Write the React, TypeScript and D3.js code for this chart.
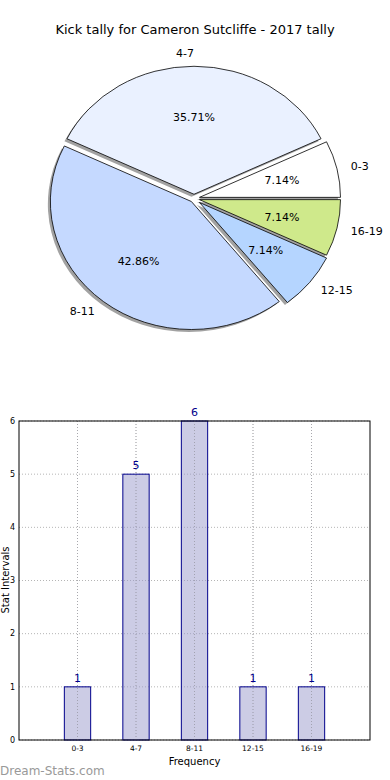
import React, { useEffect, useRef } from 'react';
import * as d3 from 'd3';

// data
const categories = ['0-3', '4-7', '8-11', '12-15', '16-19'];
const counts = [1, 5, 6, 1, 1];
const sliceColors = ['#ffffff', '#eaf1ff', '#c5d9ff', '#b5d5ff', '#cfe98b'];
const explode = [0.04, 0.033, 0.03, 0.05, 0.04];
const yTicks = [0, 1, 2, 3, 4, 5, 6];

const title = 'Kick tally for Cameron Sutcliffe - 2017 tally';
const FONT = 'DejaVu Sans, sans-serif';

const App: React.FC = () => {
  const svgRef = useRef<SVGSVGElement>(null);

  useEffect(() => {
    if (!svgRef.current) return;
    const svg = d3.select(svgRef.current);
    svg.selectAll('*').remove();

    svg.append('rect').attr('width', 390).attr('height', 780).attr('fill', '#fff');

    // title
    svg.append('text')
      .attr('x', 195).attr('y', 34)
      .attr('text-anchor', 'middle')
      .attr('font-family', FONT).attr('font-size', 13)
      .text(title);

    // ---- pie (elliptical, like matplotlib without equal aspect) ----
    const cx = 194, cy = 198.5, rx = 141, ry = 128;
    const total = d3.sum(counts);
    const pie = d3.pie<number>().sort(null).value(d => d)
      .startAngle(Math.PI / 2).endAngle(Math.PI / 2 - 2 * Math.PI);
    const arcsData = pie(counts);
    const arc = d3.arc<d3.PieArcDatum<number>>().innerRadius(0).outerRadius(rx);
    const sy = ry / rx;

    const offsetOf = (d: d3.PieArcDatum<number>, f: number) => {
      const m = (d.startAngle + d.endAngle) / 2;
      return [Math.sin(m) * rx * f, -Math.cos(m) * ry * f];
    };

    const pieG = svg.append('g');
    // shadows first
    arcsData.forEach((d, i) => {
      const [ox, oy] = offsetOf(d, explode[i]);
      pieG.append('path')
        .attr('d', arc(d) as string)
        .attr('transform', `translate(${cx + ox - 2.5},${cy + oy + 2.5}) scale(1,${sy})`)
        .attr('fill', '#555')
        .attr('opacity', 0.55);
    });
    arcsData.forEach((d, i) => {
      const [ox, oy] = offsetOf(d, explode[i]);
      pieG.append('path')
        .attr('d', arc(d) as string)
        .attr('transform', `translate(${cx + ox},${cy + oy}) scale(1,${sy})`)
        .attr('fill', sliceColors[i])
        .attr('stroke', '#000')
        .attr('stroke-width', 0.8)
        .attr('vector-effect', 'non-scaling-stroke');
    });
    arcsData.forEach((d, i) => {
      const [lx, ly] = offsetOf(d, explode[i] + 1.1);
      const [px, py] = offsetOf(d, explode[i] + 0.6);
      const anchor = Math.abs(lx) < 1 ? 'end' : lx > 0 ? 'start' : 'end';
      pieG.append('text')
        .attr('x', cx + lx).attr('y', cy + ly)
        .attr('dy', '0.35em')
        .attr('text-anchor', anchor)
        .attr('font-family', FONT).attr('font-size', 11)
        .text(categories[i]);
      pieG.append('text')
        .attr('x', cx + px).attr('y', cy + py)
        .attr('dy', '0.35em')
        .attr('text-anchor', 'middle')
        .attr('font-family', FONT).attr('font-size', 11)
        .text(`${((d.value / total) * 100).toFixed(2)}%`);
    });

    // ---- bar chart ----
    const left = 19, right = 370, top = 421, bottom = 740;
    const x = d3.scaleLinear().domain([-1, 5]).range([left, right]);
    const y = d3.scaleLinear().domain([0, 6]).range([bottom, top]);
    const barW = 0.45;

    const g = svg.append('g');
    // grid
    yTicks.forEach(t => {
      g.append('line')
        .attr('x1', left).attr('x2', right)
        .attr('y1', y(t)).attr('y2', y(t))
        .attr('stroke', '#b5b5b5').attr('stroke-width', 1)
        .attr('stroke-dasharray', '1,2');
    });
    categories.forEach((_, i) => {
      g.append('line')
        .attr('x1', x(i)).attr('x2', x(i))
        .attr('y1', top).attr('y2', bottom)
        .attr('stroke', '#b5b5b5').attr('stroke-width', 1)
        .attr('stroke-dasharray', '1,2');
    });

    // bars
    g.selectAll('.bar')
      .data(counts)
      .enter()
      .append('rect')
      .attr('class', 'bar')
      .attr('x', (_, i) => x(i - barW / 2))
      .attr('y', d => y(d))
      .attr('width', x(barW) - x(0))
      .attr('height', d => y(0) - y(d))
      .attr('fill', 'rgba(153,153,204,0.5)')
      .attr('stroke', '#00008b')
      .attr('stroke-width', 1);

    // grid shows through the bars
    categories.forEach((_, i) => {
      g.append('line')
        .attr('x1', x(i)).attr('x2', x(i))
        .attr('y1', top).attr('y2', bottom)
        .attr('stroke', '#a0a0a8').attr('stroke-width', 1)
        .attr('stroke-dasharray', '1,2').attr('opacity', 0.6);
    });

    // value labels
    g.selectAll('.val')
      .data(counts)
      .enter()
      .append('text')
      .attr('x', (_, i) => x(i))
      .attr('y', d => y(d) - 5)
      .attr('text-anchor', 'middle')
      .attr('font-family', FONT).attr('font-size', 11)
      .attr('fill', '#00008b')
      .text(d => d);

    // frame
    g.append('rect')
      .attr('x', left).attr('y', top)
      .attr('width', right - left).attr('height', bottom - top)
      .attr('fill', 'none').attr('stroke', '#000').attr('stroke-width', 1);

    // y tick labels
    yTicks.forEach(t => {
      g.append('text')
        .attr('x', 15).attr('y', y(t))
        .attr('dy', '0.35em')
        .attr('text-anchor', 'end')
        .attr('font-family', FONT).attr('font-size', 8)
        .text(t);
    });
    // x tick labels
    categories.forEach((c, i) => {
      g.append('text')
        .attr('x', x(i)).attr('y', 751)
        .attr('text-anchor', 'middle')
        .attr('font-family', FONT).attr('font-size', 7.5)
        .text(c);
    });

    g.append('text')
      .attr('x', (left + right) / 2).attr('y', 765)
      .attr('text-anchor', 'middle')
      .attr('font-family', FONT).attr('font-size', 10)
      .text('Frequency');

    g.append('text')
      .attr('transform', `translate(8.5,580) rotate(-90)`)
      .attr('text-anchor', 'middle')
      .attr('font-family', FONT).attr('font-size', 10)
      .text('Stat Intervals');

    svg.append('text')
      .attr('x', 0).attr('y', 775)
      .attr('font-family', FONT).attr('font-size', 12)
      .attr('fill', '#999')
      .text('Dream-Stats.com');
  }, []);

  return (
    <div style={{ position: 'absolute', left: 0, top: 0 }}>
      <svg ref={svgRef} width={390} height={780} style={{ display: 'block' }} />
    </div>
  );
};

export default App;
